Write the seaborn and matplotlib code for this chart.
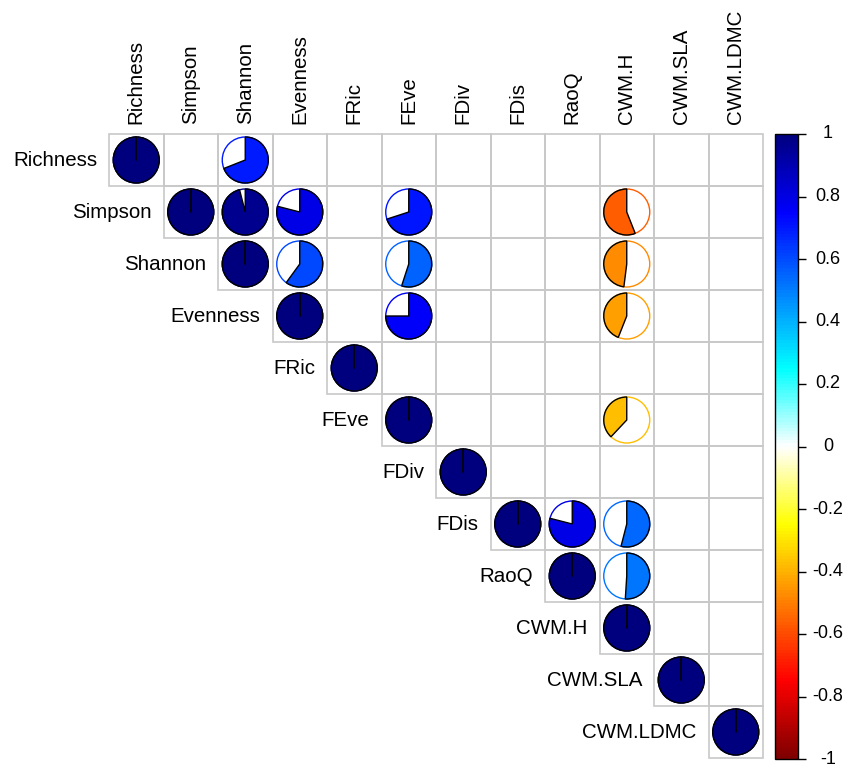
import numpy as np
import pandas as pd
import seaborn as sns
import matplotlib
matplotlib.use("Agg")
import matplotlib.pyplot as plt
from matplotlib.patches import Wedge, Circle, Rectangle
from matplotlib.lines import Line2D
from matplotlib.colors import LinearSegmentedColormap, ListedColormap, Normalize
from matplotlib.colorbar import ColorbarBase
from matplotlib.transforms import ScaledTranslation, blended_transform_factory

variables = ["Richness", "Simpson", "Shannon", "Evenness", "FRic", "FEve",
             "FDiv", "FDis", "RaoQ", "CWM.H", "CWM.SLA", "CWM.LDMC"]

# significant correlations (upper triangle); everything else is left blank
row_var = ["Richness", "Richness",
           "Simpson", "Simpson", "Simpson", "Simpson", "Simpson",
           "Shannon", "Shannon", "Shannon", "Shannon",
           "Evenness", "Evenness", "Evenness",
           "FRic", "FEve", "FEve", "FDiv",
           "FDis", "FDis", "FDis",
           "RaoQ", "RaoQ",
           "CWM.H", "CWM.SLA", "CWM.LDMC"]
col_var = ["Richness", "Shannon",
           "Simpson", "Shannon", "Evenness", "FEve", "CWM.H",
           "Shannon", "Evenness", "FEve", "CWM.H",
           "Evenness", "FEve", "CWM.H",
           "FRic", "FEve", "CWM.H", "FDiv",
           "FDis", "RaoQ", "CWM.H",
           "RaoQ", "CWM.H",
           "CWM.H", "CWM.SLA", "CWM.LDMC"]
corr_value = [1.00, 0.69,
              1.00, 0.96, 0.79, 0.70, -0.56,
              1.00, 0.60, 0.55, -0.48,
              1.00, 0.75, -0.44,
              1.00, 1.00, -0.38, 1.00,
              1.00, 0.79, 0.54,
              1.00, 0.51,
              1.00, 1.00, 1.00]

colorbar_ticks = [1, 0.8, 0.6, 0.4, 0.2, 0, -0.2, -0.4, -0.6, -0.8, -1]
colorbar_labels = ["1", "0.8", "0.6", "0.4", "0.2", "0",
                   "-0.2", "-0.4", "-0.6", "-0.8", "-1"]

n = len(variables)
corr = pd.DataFrame(np.nan, index=variables, columns=variables)
for r, c, v in zip(row_var, col_var, corr_value):
    corr.loc[r, c] = v

sns.set_style("white")
plt.rcParams["font.family"] = ["Liberation Sans", "DejaVu Sans"]

cmap = LinearSegmentedColormap.from_list(
    "corr", ["#7F0000", "red", "#FF7F00", "yellow", "white",
             "cyan", "#007FFF", "blue", "#00007F"], N=200)
norm = Normalize(-1, 1)

W, H = 843, 767
fig = plt.figure(figsize=(W / 100, H / 100), dpi=100)
ax = fig.add_axes([109 / W, 1 - 758 / H, (763 - 109) / W, (758 - 134) / H])

# white background cells of the upper triangle (diagonal included)
frame = pd.DataFrame(np.zeros((n, n)), index=variables, columns=variables)
lower = np.tril(np.ones((n, n), dtype=bool), k=-1)
sns.heatmap(frame, mask=lower, cmap=ListedColormap(["white"]), cbar=False,
            xticklabels=False, yticklabels=False, ax=ax)
ax.set_xlabel("")
ax.set_ylabel("")

# grey cell borders, upper triangle only
for i in range(n):
    for j in range(i, n):
        ax.add_patch(Rectangle((j, i), 1, 1, fill=False, edgecolor="#C8C8C8",
                               lw=1.2, clip_on=False, zorder=1))

R = 0.23  # pie radius in inches
for i, rname in enumerate(variables):
    for j, cname in enumerate(variables):
        v = corr.loc[rname, cname]
        if np.isnan(v):
            continue
        col = cmap(norm(v))
        trans = fig.dpi_scale_trans + ScaledTranslation(j + 0.5, i + 0.5, ax.transData)
        ax.add_patch(Circle((0, 0), R, fill=False, edgecolor=col, lw=1.0,
                            transform=trans, clip_on=False, zorder=2))
        a = abs(v) * 360
        if abs(v) >= 0.999:
            ax.add_patch(Circle((0, 0), R, facecolor=col, edgecolor="black",
                                lw=1.0, transform=trans, clip_on=False, zorder=3))
            ax.add_line(Line2D([0, 0], [0, R], color="black", lw=1.2,
                               transform=trans, clip_on=False, zorder=4))
        else:
            t1, t2 = (90 - a, 90) if v > 0 else (90, 90 + a)
            ax.add_patch(Wedge((0, 0), R, t1, t2, facecolor=col,
                               edgecolor="black", lw=1.0, transform=trans,
                               clip_on=False, zorder=3))

# labels
for i, name in enumerate(variables):
    ax.text(i - 0.22, i + 0.5, name, ha="right", va="center",
            fontsize=14.8, color="black")
    ax.text(i + 0.5, -0.19, name, ha="center", va="bottom", rotation=90,
            fontsize=14.8, color="black")

# colour legend
cax = fig.add_axes([775 / W, 1 - 759 / H, 23 / W, (759 - 134) / H])
cb = ColorbarBase(cax, cmap=cmap, norm=norm, orientation="vertical")
cb.outline.set_linewidth(1.0)
cb.outline.set_edgecolor("black")
cax.yaxis.set_ticks_position("right")
cax.set_yticks(colorbar_ticks)
cax.set_yticklabels([])
cax.tick_params(axis="y", length=6, width=1.0, color="black", direction="out")
tr = blended_transform_factory(fig.transFigure, cax.transData)
for t, lab in zip(colorbar_ticks, colorbar_labels):
    cax.text(828 / W, t, lab, ha="center", va="center", fontsize=13,
             transform=tr, color="black")

fig.savefig("out.png", dpi=100)
